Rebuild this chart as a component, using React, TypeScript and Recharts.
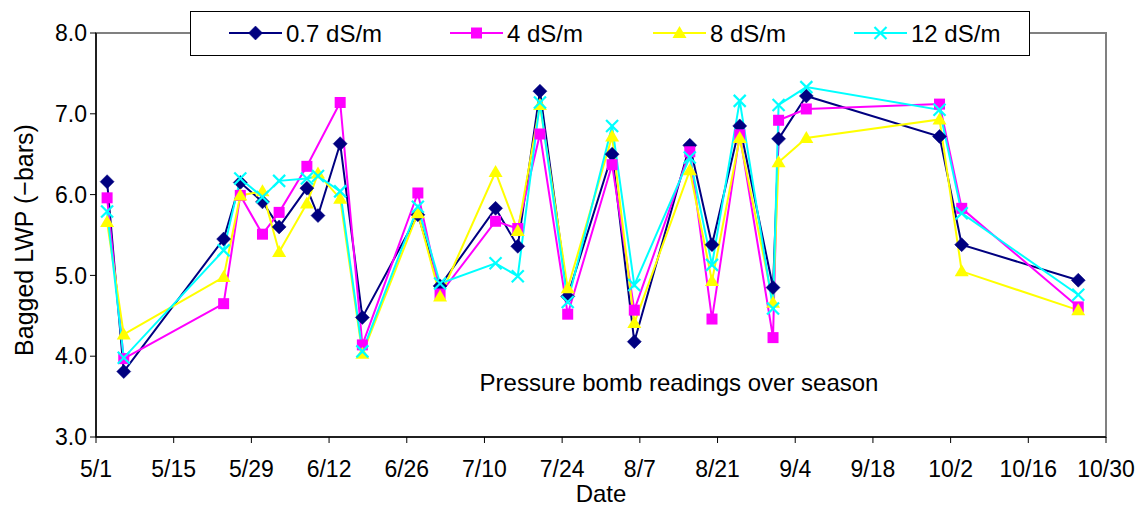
import React from 'react';
import { LineChart, Line, XAxis, YAxis, ReferenceArea } from 'recharts';

const FONT = '"Liberation Sans", Arial, Helvetica, sans-serif';

// Days since May 1
const days = [2, 5, 23, 26, 30, 33, 38, 40, 44, 48, 58, 62, 72, 76, 80, 85, 93, 97, 107, 111, 116, 122, 123, 128, 152, 156, 177];

const s07 = [6.16, 3.81, 5.45, 6.15, 5.91, 5.60, 6.08, 5.74, 6.63, 4.48, 5.75, 4.87, 5.83, 5.36, 7.28, 4.74, 6.50, 4.18, 6.61, 5.38, 6.85, 4.85, 6.69, 7.22, 6.72, 5.38, 4.94];
const s4 = [5.96, 3.97, 4.65, 5.99, 5.51, 5.78, 6.35, null, 7.14, 4.14, 6.02, 4.77, 5.67, 5.58, 6.75, 4.52, 6.37, 4.57, 6.53, 4.46, 6.74, 4.23, 6.92, 7.06, 7.12, 5.83, 4.61];
const s8 = [5.66, 4.27, 4.98, 5.99, 6.04, 5.29, 5.89, 6.26, 5.95, 4.03, 5.77, 4.74, 6.28, 5.55, 7.11, 4.84, 6.72, 4.41, 6.30, 4.93, 6.70, 4.66, 6.40, 6.70, 6.93, 5.05, 4.57];
const s12 = [5.79, 3.98, 5.31, 6.20, 5.97, 6.17, 6.20, 6.23, 6.04, 4.06, 5.85, 4.90, 5.15, 4.99, 7.14, 4.67, 6.85, 4.88, 6.46, 5.13, 7.16, 4.59, 7.11, 7.33, 7.05, 5.77, 4.76];

const tickDays = [0, 14, 28, 42, 56, 70, 84, 98, 112, 126, 140, 154, 168, 182];
const tickLabels = ['5/1', '5/15', '5/29', '6/12', '6/26', '7/10', '7/24', '8/7', '8/21', '9/4', '9/18', '10/2', '10/16', '10/30'];
const yTicks = [3, 4, 5, 6, 7, 8];

const seriesNames = ['0.7 dS/m', '4 dS/m', '8 dS/m', '12 dS/m'];
const seriesKeys = ['s07', 's4', 's8', 's12'];
const seriesColors = ['#000080', '#FF00FF', '#FFFF00', '#00FFFF'];
const seriesShapes = ['diamond', 'square', 'triangle', 'x'];

const rows = days.map((d, i) => ({ day: d, s07: s07[i], s4: s4[i], s8: s8[i], s12: s12[i] }));

function Marker({ shape, cx, cy, color }: { shape: string; cx: number; cy: number; color: string }) {
  if (shape === 'diamond') {
    return <path d={`M${cx},${cy - 7} L${cx + 7},${cy} L${cx},${cy + 7} L${cx - 7},${cy} Z`} fill={color} stroke={color} strokeWidth={0.5} />;
  }
  if (shape === 'square') {
    return <rect x={cx - 5.5} y={cy - 5.5} width={11} height={11} fill={color} />;
  }
  if (shape === 'triangle') {
    return <path d={`M${cx},${cy - 7} L${cx + 7},${cy + 5} L${cx - 7},${cy + 5} Z`} fill={color} />;
  }
  return (
    <g stroke={color} strokeWidth={2.2}>
      <line x1={cx - 6} y1={cy - 6} x2={cx + 6} y2={cy + 6} />
      <line x1={cx - 6} y1={cy + 6} x2={cx + 6} y2={cy - 6} />
    </g>
  );
}

function makeDot(shape: string, color: string) {
  return (props: any) => {
    const { cx, cy, index, value } = props;
    if (cx == null || cy == null || value == null || (Array.isArray(value) && value[1] == null)) {
      return <g key={`n-${index}`} />;
    }
    return (
      <g key={`d-${index}`}>
        <Marker shape={shape} cx={cx} cy={cy} color={color} />
      </g>
    );
  };
}

const legendX = [229, 450, 653, 854];

export default function App() {
  return (
    <div style={{ position: 'absolute', left: 0, top: 0, width: 1144, height: 506, background: '#fff' }}>
      <LineChart width={1144} height={506} data={rows} margin={{ top: 33, right: 38, bottom: 0, left: 0 }}>
        <ReferenceArea x1={0} x2={182} y1={3} y2={8} fill="none" stroke="#808080" strokeWidth={2} ifOverflow="visible" />
        <XAxis
          type="number"
          dataKey="day"
          domain={[0, 182]}
          ticks={tickDays}
          interval={0}
          tickFormatter={(v: number) => tickLabels[tickDays.indexOf(v)]}
          height={69}
          tickSize={6}
          tickMargin={18}
          axisLine={{ stroke: '#000', strokeWidth: 1.5 }}
          tickLine={{ stroke: '#000' }}
          tick={{ fill: '#000', fontSize: 23, fontFamily: FONT }}
        />
        <YAxis
          type="number"
          domain={[3, 8]}
          ticks={yTicks}
          interval={0}
          width={96}
          tickFormatter={(v: number) => v.toFixed(1)}
          tickSize={6}
          tickMargin={3}
          axisLine={{ stroke: '#000', strokeWidth: 1.5 }}
          tickLine={{ stroke: '#000' }}
          tick={{ fill: '#000', fontSize: 23, fontFamily: FONT }}
        />
        {seriesKeys.map((k, i) => (
          <Line
            key={k}
            type="linear"
            dataKey={k}
            name={seriesNames[i]}
            stroke={seriesColors[i]}
            strokeWidth={2}
            connectNulls
            isAnimationActive={false}
            dot={makeDot(seriesShapes[i], seriesColors[i])}
            activeDot={false}
          />
        ))}
        <text x={33} y={240} transform="rotate(-90 33 240)" textAnchor="middle" fontSize={25} fontFamily={FONT} fill="#000">
          Bagged LWP (−bars)
        </text>
        <text x={601} y={502} textAnchor="middle" fontSize={24} fontFamily={FONT} fill="#000">
          Date
        </text>
        <text x={679} y={391} textAnchor="middle" fontSize={24} fontFamily={FONT} fill="#000">
          Pressure bomb readings over season
        </text>
      </LineChart>
      <svg width={1144} height={60} style={{ position: 'absolute', left: 0, top: 0, pointerEvents: 'none' }}>
        <rect x={190.5} y={11.5} width={839} height={44} fill="#fff" stroke="#000" strokeWidth={1} />
        {seriesNames.map((n, i) => (
          <g key={n}>
            <line x1={legendX[i]} y1={33} x2={legendX[i] + 53} y2={33} stroke={seriesColors[i]} strokeWidth={2} />
            <Marker shape={seriesShapes[i]} cx={legendX[i] + 26.5} cy={33} color={seriesColors[i]} />
            <text x={legendX[i] + 57} y={41.5} fontSize={24} fontFamily={FONT} fill="#000">
              {n}
            </text>
          </g>
        ))}
      </svg>
    </div>
  );
}
